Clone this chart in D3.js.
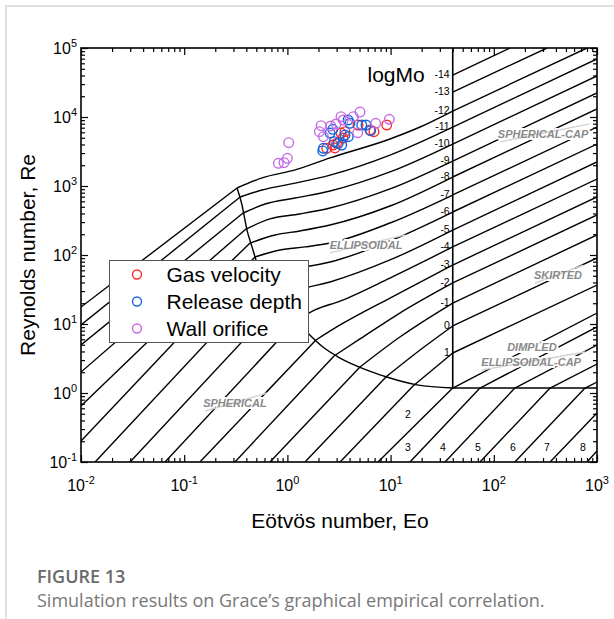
<!DOCTYPE html>
<html>
<head>
<meta charset="utf-8">
<script src="https://cdnjs.cloudflare.com/ajax/libs/d3/7.8.5/d3.min.js"></script>
<style>
    body { margin: 0; background: #fff; }
    svg text { font-family: "Liberation Sans", Arial, sans-serif; }
</style>
</head>
<body>
<svg id="vis" width="614" height="619"></svg>
<script>
/**
 * margins of the plot box, in pixels
 */
const PLOT = {top: 48, right: 597, bottom: 462, left: 81};

// axis ticks (powers of ten) and their exponent labels
const eoMajor = [0.01, 0.1, 1, 10, 100, 1000];
const eoExp = ["-2", "-1", "0", "1", "2", "3"];
const reMajor = [0.1, 1, 10, 100, 1000, 1e4, 1e5];
const reExp = ["-1", "0", "1", "2", "3", "4", "5"];

// logMo lines, spherical part: [Eo, Re]
const sphLines = [
    {mo: -12, pts: [[0.01, 17.6], [0.325, 935]]},
    {mo: -11, pts: [[0.01, 9.68], [0.348, 693]]},
    {mo: -10, pts: [[0.01, 4.96], [0.372, 406]]},
    {mo: -9, pts: [[0.01, 2.01], [0.397, 238]]},
    {mo: -8, pts: [[0.01, 0.648], [0.435, 149]]},
    {mo: -7, pts: [[0.01, 0.201], [0.485, 93.5]]},
    {mo: -6, pts: [[0.0137, 0.1], [0.621, 44.9]]},
    {mo: -5, pts: [[0.0299, 0.1], [0.867, 22.3]]},
    {mo: -4, pts: [[0.0652, 0.1], [1.24, 11.4]]},
    {mo: -3, pts: [[0.142, 0.1], [1.89, 5.86]]},
    {mo: -2, pts: [[0.310, 0.1], [2.83, 3.44]]},
    {mo: -1, pts: [[0.678, 0.1], [5.05, 2.38]]},
    {mo: 0, pts: [[1.48, 0.1], [9.02, 1.71]]},
    {mo: 1, pts: [[3.24, 0.1], [16.5, 1.26]]},
    {mo: 2, pts: [[7.55, 0.1], [40, 1.18]]},
    {mo: 3, pts: [[15.4, 0.1], [73.5, 1.18]]},
    {mo: 4, pts: [[33.7, 0.1], [160, 1.18]]},
    {mo: 5, pts: [[73.5, 0.1], [351, 1.18]]},
    {mo: 6, pts: [[160, 0.1], [765, 1.18]]},
    {mo: 7, pts: [[351, 0.1], [1000, 0.513]]},
    {mo: 8, pts: [[800, 0.1], [1000, 0.144]]}
];

// logMo lines, ellipsoidal part
const ellLines = [
    {mo: -12, pts: [[0.325, 935], [0.568, 1310], [1.19, 1710], [2.59, 2550], [9.86, 4800], [19.3, 7160], [40, 12200]]},
    {mo: -11, pts: [[0.348, 693], [0.568, 875], [1.19, 1100], [2.59, 1440], [9.86, 2810], [40, 7160]]},
    {mo: -10, pts: [[0.372, 406], [0.607, 548], [1.19, 670], [2.59, 847], [9.86, 1600], [40, 4060]]},
    {mo: -9, pts: [[0.397, 238], [0.678, 333], [1.32, 393], [2.59, 480], [9.86, 906], [40, 2300]]},
    {mo: -8, pts: [[0.435, 149], [0.759, 195], [1.32, 223], [2.59, 272], [9.86, 513], [40, 1350]]},
    {mo: -7, pts: [[0.485, 93.5], [0.848, 118], [1.48, 131], [2.59, 149], [9.86, 291], [40, 741]]},
    {mo: -6, pts: [[0.621, 44.9], [1.06, 64.8], [1.66, 69.3], [2.59, 79.2], [9.86, 160], [40, 420]]},
    {mo: -5, pts: [[0.867, 22.3], [1.32, 31.1], [2.59, 40.6], [9.86, 84.7], [40, 230]]},
    {mo: -4, pts: [[1.24, 11.4], [1.85, 16.0], [3.24, 21.5], [9.86, 46.4], [40, 131]]},
    {mo: -3, pts: [[1.89, 5.86], [3.24, 9.68], [9.86, 23.8], [40, 71.6]]},
    {mo: -2, pts: [[2.83, 3.44], [5.05, 6.07], [12.3, 14.4], [40, 39.3]]},
    {mo: -1, pts: [[5.05, 2.38], [12.3, 6.48], [40, 20.1]]},
    {mo: 0, pts: [[9.02, 1.71], [19.3, 4.20], [40, 9.36]]},
    {mo: 1, pts: [[16.5, 1.26], [40, 3.80]]}
];

// logMo lines, spherical-cap / dimpled part
const capLines = [
    {mo: -14, pts: [[40, 40600], [144, 1e5]]},
    {mo: -13, pts: [[40, 23000], [328, 1e5]]},
    {mo: -12, pts: [[40, 12200], [800, 1e5]]},
    {mo: -11, pts: [[40, 7160], [1000, 69300]]},
    {mo: -10, pts: [[40, 4060], [1000, 39300]]},
    {mo: -9, pts: [[40, 2300], [1000, 22300]]},
    {mo: -8, pts: [[40, 1350], [1000, 13100]]},
    {mo: -7, pts: [[40, 741], [1000, 7160]]},
    {mo: -6, pts: [[40, 420], [1000, 4060]]},
    {mo: -5, pts: [[40, 230], [1000, 2230]]},
    {mo: -4, pts: [[40, 131], [1000, 1260]]},
    {mo: -3, pts: [[40, 71.6], [1000, 693]]},
    {mo: -2, pts: [[40, 39.3], [1000, 380]]},
    {mo: -1, pts: [[40, 20.1], [1000, 195]]},
    {mo: 0, pts: [[40, 9.36], [1000, 90.6]]},
    {mo: 1, pts: [[40, 3.80], [1000, 36.7]]},
    {mo: 2, pts: [[40, 1.18], [1000, 14.4]]},
    {mo: 3, pts: [[73.5, 1.18], [1000, 9.05]]},
    {mo: 4, pts: [[160, 1.18], [1000, 4.96]]},
    {mo: 5, pts: [[351, 1.18], [1000, 2.63]]},
    {mo: 6, pts: [[765, 1.18], [1000, 1.44]]}
];

// regime boundaries
const sphericalBoundary = [[0.325, 935], [0.363, 531], [0.406, 230], [0.454, 131], [0.507, 76.6], [0.759, 28.1],
    [1.11, 13.5], [1.58, 7.41], [2.21, 4.64], [3.24, 3.21], [5.90, 2.15], [9.86, 1.65], [18.0, 1.31], [40, 1.18]];
const capBoundary = [[40, 1.18], [40, 1e5]];
const dimpledBoundary = [[40, 1.18], [1000, 1.18]];

// labels for the lower logMo lines: [Eo, Re, text]
const lowMoLabels = [[14.7, 0.497, "2"], [14.7, 0.165, "3"], [32.2, 0.165, "4"], [70.3, 0.165, "5"],
    [153, 0.165, "6"], [328, 0.165, "7"], [732, 0.165, "8"]];

// regime names: [Eo, Re, text]
const regimeLabels = [
    [300, 5700, "SPHERICAL-CAP"],
    [5.78, 140, "ELLIPSOIDAL"],
    [419, 51, "SKIRTED"],
    [234, 4.64, "DIMPLED"],
    [230, 2.81, "ELLIPSOIDAL-CAP"],
    [0.31, 0.716, "SPHERICAL"]
];

// simulation results: [Eo, Re]
const gasVelocity = [[2.40, 3520], [2.77, 3930], [3.00, 4160], [3.31, 5860], [3.61, 6120], [3.46, 4960],
    [4.83, 7660], [6.31, 6480], [6.90, 6120], [9.17, 7660], [2.89, 3560]];
const releaseDepth = [[2.23, 3520], [2.20, 3220], [2.75, 6630], [2.85, 4390], [3.11, 4160], [3.36, 3930],
    [3.89, 5180], [4.04, 8100], [5.25, 7660], [5.78, 7660], [6.41, 6330], [2.59, 5860], [3.61, 5480], [3.87, 9050]];
const wallOrifice = [[0.817, 2130], [0.927, 2180], [1.00, 2520], [1.03, 4240], [2.12, 7480], [2.04, 6120],
    [2.23, 5180], [2.63, 7410], [3.31, 10100], [3.48, 9050], [4.35, 10100], [5.05, 11800], [7.17, 8100],
    [9.71, 9270], [4.80, 5920], [2.96, 7920]];

const seriesNames = ["Gas velocity", "Release depth", "Wall orifice"];
const seriesColors = ["#ff2b2b", "#1565e0", "#c56ce6"];

var svg = d3.select("#vis");

// card border of the figure
svg.append("path")
    .attr("d", "M6,619V6H614")
    .attr("fill", "none")
    .attr("stroke", "#d6d6d6")
    .attr("stroke-width", 1.5);

var x = d3.scaleLog().domain([0.01, 1000]).range([PLOT.left, PLOT.right]);
var y = d3.scaleLog().domain([0.1, 1e5]).range([PLOT.bottom, PLOT.top]);

svg.append("clipPath").attr("id", "clip")
    .append("rect")
    .attr("x", PLOT.left).attr("y", PLOT.top)
    .attr("width", PLOT.right - PLOT.left).attr("height", PLOT.bottom - PLOT.top);

var straight = d3.line().x(d => x(d[0])).y(d => y(d[1]));
var smooth = d3.line().x(d => x(d[0])).y(d => y(d[1])).curve(d3.curveMonotoneX);

var lines = svg.append("g").attr("clip-path", "url(#clip)")
    .attr("fill", "none").attr("stroke", "#000").attr("stroke-width", 1.4)
    .attr("stroke-linejoin", "round");

lines.selectAll(".sph").data(sphLines).join("path").attr("class", "sph").attr("d", d => straight(d.pts));
lines.selectAll(".ell").data(ellLines).join("path").attr("class", "ell").attr("d", d => smooth(d.pts));
lines.selectAll(".cap").data(capLines).join("path").attr("class", "cap").attr("d", d => straight(d.pts));

lines.append("path").attr("d", smooth(sphericalBoundary));
lines.append("path").attr("d", straight(capBoundary)).attr("stroke-width", 1.6);
lines.append("path").attr("d", straight(dimpledBoundary)).attr("stroke-width", 1.6);

// regime names: white halo, grey swoosh, then the text
var regimes = svg.append("g")
    .attr("font-size", 11).attr("font-weight", "bold").attr("font-style", "italic")
    .attr("text-anchor", "middle");
regimes.selectAll(".halo").data(regimeLabels).join("text")
    .attr("class", "halo")
    .attr("x", d => x(d[0])).attr("y", d => y(d[1])).attr("dy", "0.35em")
    .attr("fill", "none").attr("stroke", "#fff").attr("stroke-width", 4)
    .text(d => d[2]);
regimes.selectAll(".swoosh").data(regimeLabels.filter(d => d[2] != "DIMPLED")).join("line")
    .attr("class", "swoosh")
    .attr("x1", d => x(d[0]) - d[2].length * 3.3).attr("y1", d => y(d[1]) + 8)
    .attr("x2", d => x(d[0]) + d[2].length * 3.6).attr("y2", d => y(d[1]) - 10)
    .attr("stroke", "#d2d2d2").attr("stroke-width", 1.4);
regimes.selectAll(".name").data(regimeLabels).join("text")
    .attr("class", "name")
    .attr("x", d => x(d[0])).attr("y", d => y(d[1])).attr("dy", "0.35em")
    .attr("fill", "#8a8a8a")
    .text(d => d[2]);

// logMo labels next to the Eo = 40 boundary
var moLabels = svg.append("g").attr("font-size", 10.5).attr("text-anchor", "end");
moLabels.selectAll("text").data(capLines.filter(d => d.mo <= 1)).join("text")
    .attr("x", x(40) - 3)
    .attr("y", d => y(d.pts[0][1]) - 1)
    .attr("dy", "0.35em")
    .text(d => d.mo);
svg.append("g").attr("font-size", 10.5).attr("text-anchor", "middle")
    .selectAll("text").data(lowMoLabels).join("text")
    .attr("x", d => x(d[0])).attr("y", d => y(d[1])).attr("dy", "0.35em")
    .text(d => d[2]);

svg.append("text")
    .attr("x", x(11.3)).attr("y", y(40600)).attr("dy", "0.35em")
    .attr("text-anchor", "middle").attr("font-size", 21)
    .text("logMo");

// simulation points
var points = svg.append("g").attr("fill", "none").attr("stroke-width", 1.4);
[gasVelocity, releaseDepth, wallOrifice].forEach(function(series, i){
    points.append("g").attr("stroke", seriesColors[i])
        .selectAll("circle").data(series).join("circle")
        .attr("cx", d => x(d[0]))
        .attr("cy", d => y(d[1]))
        .attr("r", 4.8);
});

// frame and inward ticks on all four sides
svg.append("rect")
    .attr("x", PLOT.left).attr("y", PLOT.top)
    .attr("width", PLOT.right - PLOT.left).attr("height", PLOT.bottom - PLOT.top)
    .attr("fill", "none").attr("stroke", "#000").attr("stroke-width", 1.6);

var eoMinor = x.ticks().filter(d => eoMajor.indexOf(d) < 0);
var reMinor = y.ticks().filter(d => reMajor.indexOf(d) < 0);

function drawTicks(axis, transform){
    svg.append("g")
        .attr("transform", transform)
        .call(axis.tickFormat("").tickSizeOuter(0))
        .call(g => g.select(".domain").remove())
        .call(g => g.selectAll("line").attr("stroke-width", 1.2));
}
drawTicks(d3.axisBottom(x).tickValues(eoMajor).tickSize(-7), `translate(0,${PLOT.bottom})`);
drawTicks(d3.axisBottom(x).tickValues(eoMinor).tickSize(-4), `translate(0,${PLOT.bottom})`);
drawTicks(d3.axisTop(x).tickValues(eoMajor).tickSize(-7), `translate(0,${PLOT.top})`);
drawTicks(d3.axisTop(x).tickValues(eoMinor).tickSize(-4), `translate(0,${PLOT.top})`);
drawTicks(d3.axisLeft(y).tickValues(reMajor).tickSize(-7), `translate(${PLOT.left},0)`);
drawTicks(d3.axisLeft(y).tickValues(reMinor).tickSize(-4), `translate(${PLOT.left},0)`);
drawTicks(d3.axisRight(y).tickValues(reMajor).tickSize(-7), `translate(${PLOT.right},0)`);
drawTicks(d3.axisRight(y).tickValues(reMinor).tickSize(-4), `translate(${PLOT.right},0)`);

// tick labels as powers of ten
svg.selectAll(".xlab").data(eoMajor).join("text")
    .attr("class", "xlab")
    .attr("x", d => x(d)).attr("y", 491)
    .attr("text-anchor", "middle")
    .each(function(d, i){
        var t = d3.select(this);
        t.append("tspan").attr("font-size", 16).text("10");
        t.append("tspan").attr("font-size", 11).attr("dy", -7).text(eoExp[i]);
    });
svg.selectAll(".ylab").data(reMajor).join("text")
    .attr("class", "ylab")
    .attr("x", 77).attr("y", d => y(d) + 6)
    .attr("text-anchor", "end")
    .each(function(d, i){
        var t = d3.select(this);
        t.append("tspan").attr("font-size", 16).text("10");
        t.append("tspan").attr("font-size", 11).attr("dy", -7).text(reExp[i]);
    });

// axis titles
svg.append("text")
    .attr("x", (PLOT.left + PLOT.right) / 2 + 1).attr("y", 528)
    .attr("text-anchor", "middle").attr("font-size", 21)
    .text("Eötvös number, Eo");
svg.append("text")
    .attr("transform", `translate(28,${(PLOT.top + PLOT.bottom) / 2}) rotate(-90)`)
    .attr("dy", "0.35em")
    .attr("text-anchor", "middle").attr("font-size", 21)
    .text("Reynolds number, Re");

// legend
var legend = svg.append("g").attr("transform", "translate(109.5,260.5)");
legend.append("rect")
    .attr("width", 199).attr("height", 82)
    .attr("fill", "#fff").attr("stroke", "#555").attr("stroke-width", 1);
seriesNames.forEach(function(name, i){
    legend.append("circle")
        .attr("cx", 27.5).attr("cy", 14 + i * 27)
        .attr("r", 4.5)
        .attr("fill", "none").attr("stroke", seriesColors[i]).attr("stroke-width", 1.4);
    legend.append("text")
        .attr("x", 57).attr("y", 14 + i * 27).attr("dy", "0.36em")
        .attr("font-size", 21)
        .text(name);
});

// figure caption
svg.append("text")
    .attr("x", 37).attr("y", 583)
    .style("font-family", "'Open Sans', sans-serif")
    .attr("font-size", 18).attr("font-weight", 600).attr("fill", "#6a6a6a")
    .text("FIGURE 13");
svg.append("text")
    .attr("x", 37).attr("y", 607)
    .style("font-family", "'Open Sans', sans-serif")
    .attr("font-size", 18).attr("fill", "#787878")
    .text("Simulation results on Grace’s graphical empirical correlation.");
</script>
</body>
</html>
